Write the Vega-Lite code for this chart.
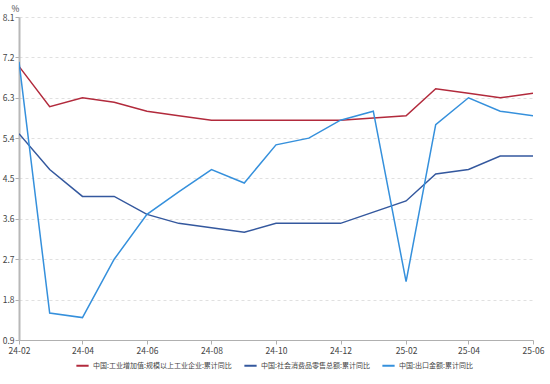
{
  "$schema": "https://vega.github.io/schema/vega-lite/v6.json",
  "autosize": "none",
  "width": 514,
  "height": 323,
  "padding": {"left": 19, "top": 17, "right": 17, "bottom": 44},
  "background": "#ffffff",
  "config": {
    "font": "Noto Sans CJK SC",
    "view": {"stroke": null}
  },
  "data": {
    "values": [
      {"date": "2024/02/01", "series": "中国:工业增加值:规模以上工业企业:累计同比", "value": 7.0},
      {"date": "2024/03/01", "series": "中国:工业增加值:规模以上工业企业:累计同比", "value": 6.1},
      {"date": "2024/04/01", "series": "中国:工业增加值:规模以上工业企业:累计同比", "value": 6.3},
      {"date": "2024/05/01", "series": "中国:工业增加值:规模以上工业企业:累计同比", "value": 6.2},
      {"date": "2024/06/01", "series": "中国:工业增加值:规模以上工业企业:累计同比", "value": 6.0},
      {"date": "2024/07/01", "series": "中国:工业增加值:规模以上工业企业:累计同比", "value": 5.9},
      {"date": "2024/08/01", "series": "中国:工业增加值:规模以上工业企业:累计同比", "value": 5.8},
      {"date": "2024/09/01", "series": "中国:工业增加值:规模以上工业企业:累计同比", "value": 5.8},
      {"date": "2024/10/01", "series": "中国:工业增加值:规模以上工业企业:累计同比", "value": 5.8},
      {"date": "2024/11/01", "series": "中国:工业增加值:规模以上工业企业:累计同比", "value": 5.8},
      {"date": "2024/12/01", "series": "中国:工业增加值:规模以上工业企业:累计同比", "value": 5.8},
      {"date": "2025/02/01", "series": "中国:工业增加值:规模以上工业企业:累计同比", "value": 5.9},
      {"date": "2025/03/01", "series": "中国:工业增加值:规模以上工业企业:累计同比", "value": 6.5},
      {"date": "2025/04/01", "series": "中国:工业增加值:规模以上工业企业:累计同比", "value": 6.4},
      {"date": "2025/05/01", "series": "中国:工业增加值:规模以上工业企业:累计同比", "value": 6.3},
      {"date": "2025/06/01", "series": "中国:工业增加值:规模以上工业企业:累计同比", "value": 6.4},
      {"date": "2024/02/01", "series": "中国:社会消费品零售总额:累计同比", "value": 5.5},
      {"date": "2024/03/01", "series": "中国:社会消费品零售总额:累计同比", "value": 4.7},
      {"date": "2024/04/01", "series": "中国:社会消费品零售总额:累计同比", "value": 4.1},
      {"date": "2024/05/01", "series": "中国:社会消费品零售总额:累计同比", "value": 4.1},
      {"date": "2024/06/01", "series": "中国:社会消费品零售总额:累计同比", "value": 3.7},
      {"date": "2024/07/01", "series": "中国:社会消费品零售总额:累计同比", "value": 3.5},
      {"date": "2024/08/01", "series": "中国:社会消费品零售总额:累计同比", "value": 3.4},
      {"date": "2024/09/01", "series": "中国:社会消费品零售总额:累计同比", "value": 3.3},
      {"date": "2024/10/01", "series": "中国:社会消费品零售总额:累计同比", "value": 3.5},
      {"date": "2024/11/01", "series": "中国:社会消费品零售总额:累计同比", "value": 3.5},
      {"date": "2024/12/01", "series": "中国:社会消费品零售总额:累计同比", "value": 3.5},
      {"date": "2025/02/01", "series": "中国:社会消费品零售总额:累计同比", "value": 4.0},
      {"date": "2025/03/01", "series": "中国:社会消费品零售总额:累计同比", "value": 4.6},
      {"date": "2025/04/01", "series": "中国:社会消费品零售总额:累计同比", "value": 4.7},
      {"date": "2025/05/01", "series": "中国:社会消费品零售总额:累计同比", "value": 5.0},
      {"date": "2025/06/01", "series": "中国:社会消费品零售总额:累计同比", "value": 5.0},
      {"date": "2024/02/01", "series": "中国:出口金额:累计同比", "value": 7.1},
      {"date": "2024/03/01", "series": "中国:出口金额:累计同比", "value": 1.5},
      {"date": "2024/04/01", "series": "中国:出口金额:累计同比", "value": 1.4},
      {"date": "2024/05/01", "series": "中国:出口金额:累计同比", "value": 2.7},
      {"date": "2024/06/01", "series": "中国:出口金额:累计同比", "value": 3.7},
      {"date": "2024/07/01", "series": "中国:出口金额:累计同比", "value": 4.2},
      {"date": "2024/08/01", "series": "中国:出口金额:累计同比", "value": 4.7},
      {"date": "2024/09/01", "series": "中国:出口金额:累计同比", "value": 4.4},
      {"date": "2024/10/01", "series": "中国:出口金额:累计同比", "value": 5.25},
      {"date": "2024/11/01", "series": "中国:出口金额:累计同比", "value": 5.4},
      {"date": "2024/12/01", "series": "中国:出口金额:累计同比", "value": 5.8},
      {"date": "2025/01/01", "series": "中国:出口金额:累计同比", "value": 6.0},
      {"date": "2025/02/01", "series": "中国:出口金额:累计同比", "value": 2.2},
      {"date": "2025/03/01", "series": "中国:出口金额:累计同比", "value": 5.7},
      {"date": "2025/04/01", "series": "中国:出口金额:累计同比", "value": 6.3},
      {"date": "2025/05/01", "series": "中国:出口金额:累计同比", "value": 6.0},
      {"date": "2025/06/01", "series": "中国:出口金额:累计同比", "value": 5.9}
    ]
  },
  "mark": {"type": "line", "strokeWidth": 1.5, "clip": true},
  "encoding": {
    "x": {
      "field": "date",
      "type": "temporal",
      "scale": {"domain": [{"year": 2024, "month": 2, "date": 1}, {"year": 2025, "month": 6, "date": 1}]},
      "axis": {
        "title": null,
        "format": "%y-%m",
        "values": [
          {"year": 2024, "month": 2, "date": 1},
          {"year": 2024, "month": 4, "date": 1},
          {"year": 2024, "month": 6, "date": 1},
          {"year": 2024, "month": 8, "date": 1},
          {"year": 2024, "month": 10, "date": 1},
          {"year": 2024, "month": 12, "date": 1},
          {"year": 2025, "month": 2, "date": 1},
          {"year": 2025, "month": 4, "date": 1},
          {"year": 2025, "month": 6, "date": 1}
        ],
        "grid": false,
        "domainColor": "#b0b0b0",
        "domainWidth": 1,
        "tickColor": "#b0b0b0",
        "tickSize": 4,
        "labelFontSize": 8.5,
        "labelColor": "#444444",
        "labelPadding": 2,
        "labelFlush": false,
        "labelOverlap": false
      }
    },
    "y": {
      "field": "value",
      "type": "quantitative",
      "scale": {"domain": [0.9, 8.1], "nice": false, "zero": false},
      "axis": {
        "title": "%",
        "titleAngle": 0,
        "titleX": -4,
        "titleY": -4,
        "titleAlign": "center",
        "titleBaseline": "bottom",
        "titleFontSize": 8.5,
        "titleFontWeight": "normal",
        "titleColor": "#444444",
        "values": [0.9, 1.8, 2.7, 3.6, 4.5, 5.4, 6.3, 7.2, 8.1],
        "format": ".1f",
        "grid": true,
        "gridColor": "#e0e0e0",
        "gridDash": [3, 3],
        "gridWidth": 1,
        "domainColor": "#b8b8b8",
        "domainWidth": 2,
        "tickColor": "#b0b0b0",
        "tickSize": 4,
        "labelFontSize": 8.5,
        "labelColor": "#444444",
        "labelPadding": 1
      }
    },
    "color": {
      "field": "series",
      "type": "nominal",
      "scale": {
        "domain": ["中国:工业增加值:规模以上工业企业:累计同比", "中国:社会消费品零售总额:累计同比", "中国:出口金额:累计同比"],
        "range": ["#b22a3c", "#34589e", "#3590dc"]
      },
      "legend": {
        "title": null,
        "orient": "none",
        "direction": "horizontal",
        "legendX": 56,
        "legendY": 341,
        "symbolType": "stroke",
        "symbolStrokeWidth": 2,
        "symbolSize": 150,
        "labelFontSize": 7,
        "labelColor": "#444444",
        "columnPadding": 8,
        "labelOffset": 3
      }
    }
  }
}
